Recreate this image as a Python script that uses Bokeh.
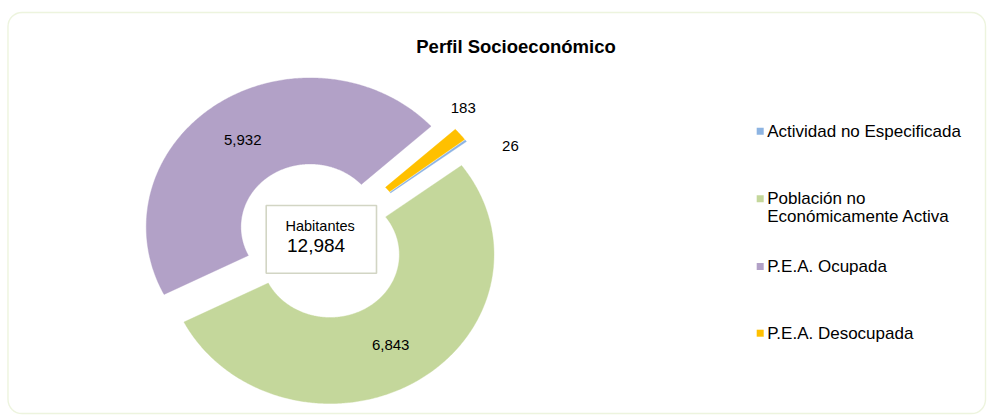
import numpy as np
from bokeh.plotting import figure
from bokeh.models import Range1d, BoxAnnotation
from bokeh.core.properties import value
from bokeh.embed import file_html
from bokeh.resources import INLINE

# ---------------- data ----------------
chart_title = "Perfil Socioeconómico"
categories = ["Actividad no Especificada", "Población no Económicamente Activa",
              "P.E.A. Ocupada", "P.E.A. Desocupada"]
legend_labels = ["Actividad no Especificada", "Población no\nEconómicamente Activa",
                 "P.E.A. Ocupada", "P.E.A. Desocupada"]
values = [26, 6843, 5932, 183]
center_caption = "Habitantes"

# ---------------- style / layout ----------------
colors = ["#8DB4E2", "#C4D79B", "#B2A1C7", "#FFC000"]
FONT = "Liberation Sans"
CX, CY = 320.0, 240.0          # donut centre (page px)
R_OUT = 149.0                  # outer radius (vertical px)
R_IN = 63.0                    # hole radius
STRETCH = 1.1                  # horizontal stretch of the donut
EXPLODE = 16.5                 # explosion distance
START = 52.6                   # first slice angle (deg, clockwise from top)
LABEL_RHO = [180.5, 106.0, 106.0, 169.3]
LABEL_DTHETA = [9.1, 0.5, -0.6, -6.3]
LEGEND_X = 759.7
LEGEND_Y = [130.7, 198.3, 266.0, 332.7]
LEGEND_LINE = 18.0

W, H = 987, 416
p = figure(width=W, height=H, x_range=Range1d(0, W), y_range=Range1d(H, 0),
           output_backend="svg", toolbar_location=None, min_border=0,
           x_axis_location=None, y_axis_location=None)
p.grid.visible = False
p.outline_line_color = None
p.background_fill_color = "white"
p.border_fill_color = "white"

# outer rounded border
p.add_layout(BoxAnnotation(left=7.5, right=985.0, top=12.0, bottom=413.0,
                           fill_alpha=0, line_color="#C4DB92", line_width=1.4,
                           border_radius=14))

# ---------------- donut ----------------
total = sum(values)
spans = np.array(values, dtype=float) / total * 360.0
starts = START + np.concatenate([[0.0], np.cumsum(spans)[:-1]])
ends = starts + spans
mids = (starts + ends) / 2.0


def polar(cx, cy, rho, theta_deg):
    t = np.radians(theta_deg)
    return cx + STRETCH * rho * np.sin(t), cy - rho * np.cos(t)


xs, ys, lx, ly = [], [], [], []
for i, (a0, a1, m) in enumerate(zip(starts, ends, mids)):
    ox, oy = polar(CX, CY, EXPLODE, m)
    th = np.linspace(a0, a1, max(int((a1 - a0) * 2) + 2, 3))
    ox_arc, oy_arc = polar(ox, oy, R_OUT, th)
    ix_arc, iy_arc = polar(ox, oy, R_IN, th[::-1])
    xs.append(list(np.concatenate([ox_arc, ix_arc])))
    ys.append(list(np.concatenate([oy_arc, iy_arc])))
    tx, ty = polar(ox, oy, LABEL_RHO[i], m + LABEL_DTHETA[i])
    lx.append(tx)
    ly.append(ty)

p.patches(xs, ys, fill_color=colors, line_color=colors, line_width=0.4)

p.text(x=lx, y=ly, text=[f"{v:,}" for v in values], text_font=value(FONT),
       text_font_size="15px", text_color="#000000", text_align="center",
       text_baseline="middle")

# ---------------- centre box ----------------
p.quad(left=[265.7], right=[376.0], top=[205.0], bottom=[272.7],
       fill_color="white", line_color="#D2D5C4", line_width=1.6)
p.text(x=[285.0], y=[225.3], text=[center_caption], text_font=value(FONT),
       text_font_size="14.5px", text_color="#000000", text_align="left",
       text_baseline="middle")
p.text(x=[286.5], y=[244.6], text=[f"{total:,}"], text_font=value(FONT),
       text_font_size="19px", text_color="#000000", text_align="left",
       text_baseline="middle")

# ---------------- title ----------------
p.text(x=[515.5], y=[46.0], text=[chart_title], text_font=value(FONT),
       text_font_size="18.5px", text_font_style="bold", text_color="#000000",
       text_align="center", text_baseline="middle")

# ---------------- legend ----------------
p.scatter(x=[LEGEND_X] * len(categories), y=LEGEND_Y, marker="square", size=7,
          fill_color=colors, line_color=None)
leg_x, leg_y, leg_t = [], [], []
for yy, lab in zip(LEGEND_Y, legend_labels):
    for k, line in enumerate(lab.split("\n")):
        leg_x.append(LEGEND_X + 7.0)
        leg_y.append(yy + k * LEGEND_LINE)
        leg_t.append(line)
p.text(x=leg_x, y=leg_y, text=leg_t, text_font=value(FONT), text_font_size="17px",
       text_color="#000000", text_align="left", text_baseline="middle")

open("out.html", "w").write(file_html(p, INLINE))
